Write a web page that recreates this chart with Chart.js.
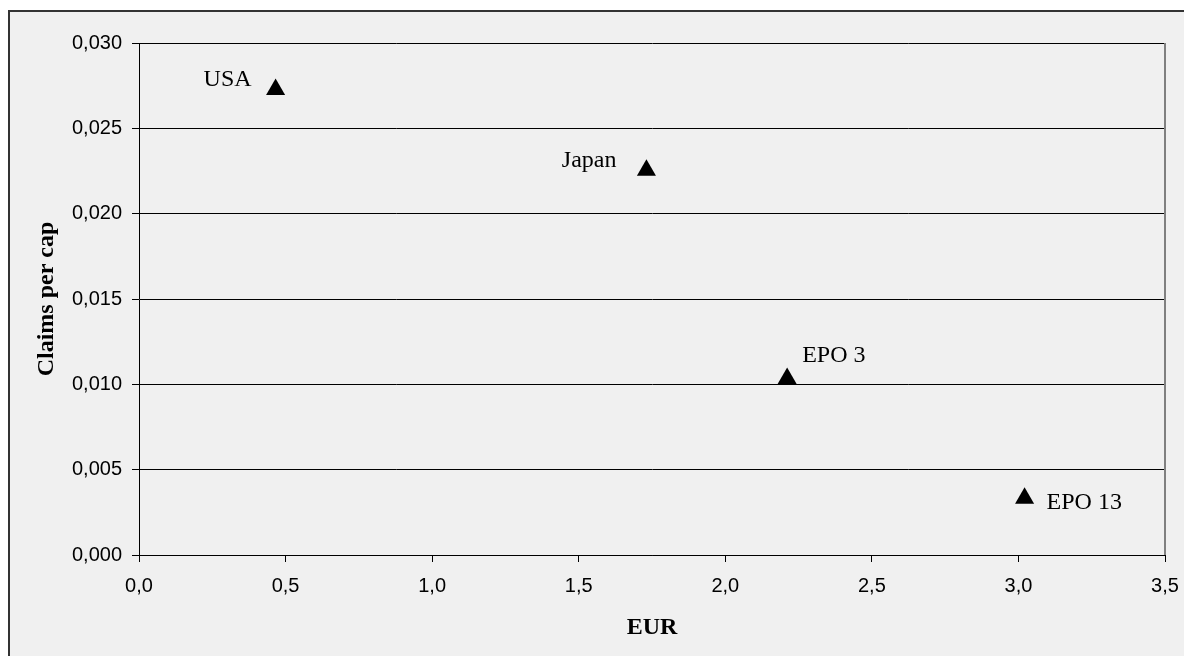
<!DOCTYPE html>
<html>
<head>
<meta charset="utf-8">
<script src="https://cdn.jsdelivr.net/npm/chart.js@4/dist/chart.umd.min.js"></script>
<style>
  html, body { margin: 0; padding: 0; background: #fff; }
  #wrap { width: 1184px; height: 656px; position: relative; }
</style>
</head>
<body>
<div id="wrap"><canvas id="claimsChart"></canvas></div>
<script>
// Data
const countries = ['USA', 'Japan', 'EPO 3', 'EPO 13'];
const eurValues = [0.466, 1.731, 2.211, 3.021];
const claimsPerCap = [0.02728, 0.02255, 0.01034, 0.00332];
const xTicks = [0, 0.5, 1.0, 1.5, 2.0, 2.5, 3.0, 3.5];
const yTicks = [0, 0.005, 0.010, 0.015, 0.020, 0.025, 0.030];

// where each name sits next to its marker (px from point centre)
const labelOffsets = [
  { dx: -24, dy: -10, align: 'right' },
  { dx: -30, dy: -9, align: 'right' },
  { dx: 15, dy: -23, align: 'left' },
  { dx: 22, dy: 4, align: 'left' }
];

const serif = "'Liberation Serif', 'Times New Roman', serif";
const sans = "'Liberation Sans', Arial, sans-serif";

// Grey panel with the frame, plus the grey right edge of the plot
const frame = {
  id: 'frame',
  beforeDraw(chart) {
    const { ctx, width, height } = chart;
    ctx.save();
    ctx.fillStyle = '#ffffff';
    ctx.fillRect(0, 0, width, height);
    ctx.fillStyle = '#f0f0f0';
    ctx.fillRect(9, 11, width - 9, height - 11);
    ctx.strokeStyle = '#333333';
    ctx.lineWidth = 2;
    ctx.beginPath();
    ctx.moveTo(9, height);
    ctx.lineTo(9, 11);
    ctx.lineTo(width, 11);
    ctx.stroke();
    ctx.restore();
  },
  afterDatasetsDraw(chart) {
    const { ctx, chartArea } = chart;
    ctx.save();
    ctx.strokeStyle = '#808080';
    ctx.lineWidth = 2;
    ctx.beginPath();
    ctx.moveTo(chartArea.right, chartArea.top);
    ctx.lineTo(chartArea.right, chartArea.bottom);
    ctx.stroke();
    ctx.restore();
  }
};

// Country names beside the markers
const pointNames = {
  id: 'pointNames',
  afterDatasetsDraw(chart) {
    const { ctx } = chart;
    const meta = chart.getDatasetMeta(0);
    ctx.save();
    ctx.font = '24px ' + serif;
    ctx.fillStyle = '#000';
    ctx.textBaseline = 'middle';
    meta.data.forEach((pt, i) => {
      const off = labelOffsets[i];
      ctx.textAlign = off.align;
      ctx.fillText(countries[i], pt.x + off.dx, pt.y + off.dy);
    });
    ctx.restore();
  }
};

const points = eurValues.map((x, i) => ({ x: x, y: claimsPerCap[i] }));

new Chart(document.getElementById('claimsChart'), {
  type: 'scatter',
  data: {
    labels: countries,
    datasets: [{
      data: points,
      pointStyle: 'triangle',
      pointRadius: 11,
      pointHoverRadius: 11,
      backgroundColor: '#000',
      borderColor: '#000',
      borderWidth: 0
    }]
  },
  options: {
    responsive: true,
    maintainAspectRatio: false,
    animation: false,
    events: [],
    layout: { padding: { top: 43, right: 19, bottom: 0, left: 0 } },
    plugins: {
      legend: { display: false },
      tooltip: { enabled: false }
    },
    scales: {
      x: {
        type: 'linear',
        min: 0,
        max: 3.5,
        afterBuildTicks: (scale) => { scale.ticks = xTicks.map(v => ({ value: v })); },
        afterFit: (scale) => {
          scale.height = 101;
          scale.paddingLeft = 0;
          scale.paddingRight = 0;
        },
        grid: {
          drawOnChartArea: false,
          drawTicks: true,
          tickLength: 7,
          color: '#000'
        },
        border: { color: '#000', width: 1 },
        ticks: {
          color: '#000',
          padding: 12,
          maxRotation: 0,
          font: { family: sans, size: 20 },
          callback: (v) => Number(v).toFixed(1).replace('.', ',')
        },
        title: {
          display: true,
          text: 'EUR',
          color: '#000',
          font: { family: serif, size: 24, weight: 'bold' },
          padding: { top: 0, bottom: 14 }
        }
      },
      y: {
        type: 'linear',
        min: 0,
        max: 0.03,
        afterBuildTicks: (scale) => { scale.ticks = yTicks.map(v => ({ value: v })); },
        afterFit: (scale) => {
          scale.width = 139;
          scale.paddingTop = 0;
          scale.paddingBottom = 0;
        },
        grid: {
          drawOnChartArea: true,
          drawTicks: true,
          tickLength: 7,
          color: '#000'
        },
        border: { color: '#000', width: 1 },
        ticks: {
          color: '#000',
          padding: 10,
          font: { family: sans, size: 20 },
          callback: (v) => Number(v).toFixed(3).replace('.', ',')
        },
        title: {
          display: true,
          text: 'Claims per cap',
          color: '#000',
          font: { family: serif, size: 24, weight: 'bold' },
          padding: { top: 32, bottom: 0 }
        }
      }
    }
  },
  plugins: [frame, pointNames]
});
</script>
</body>
</html>
